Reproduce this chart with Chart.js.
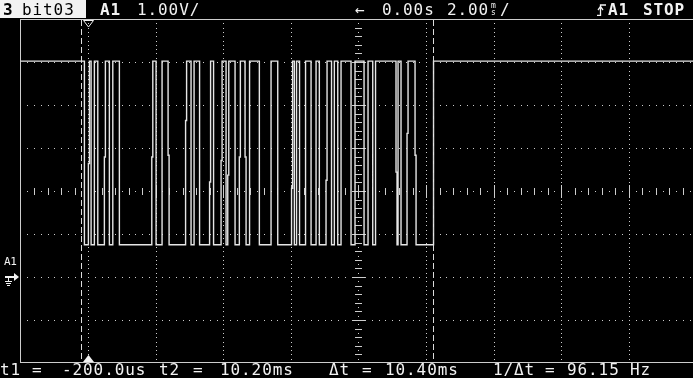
<!DOCTYPE html>
<html>
<head>
<meta charset="utf-8">
<script src="https://cdn.jsdelivr.net/npm/chart.js@4/dist/chart.umd.min.js"></script>
<style>
  html, body { margin: 0; padding: 0; background: #000; overflow: hidden; }
  #scope { position: relative; width: 693px; height: 378px; background: #000; overflow: hidden; }
  #scope canvas { position: absolute; left: 0; top: 0; }
  .t { position: absolute; font-family: "DejaVu Sans Mono", monospace; font-size: 16px; line-height: 16px;
       letter-spacing: 0.9px; color: #f2f2f2; white-space: pre; }
  .b { font-weight: bold; }
  .top { top: 2px; }
  .bot { top: 362px; }
  #tag { position: absolute; left: 0; top: 0; width: 86px; height: 18px; background: #f2f2f2; }
  #unit { position: absolute; left: 488px; top: 2px; width: 11px; font-family: "DejaVu Sans Mono", monospace;
          font-size: 8px; line-height: 7px; color: #f2f2f2; text-align: center; }
  #trig { position: absolute; left: 597px; top: 4px; }
</style>
</head>
<body>
<div id="scope">
  <canvas id="c" width="693" height="378"></canvas>

  <!-- status line -->
  <div id="tag"></div>
  <div class="t top b" style="left:3px;color:#000">3</div>
  <div class="t top" style="left:22px;color:#000">bit03</div>
  <div class="t top b" style="left:100px">A1</div>
  <div class="t top" style="left:137px" id="vdiv"></div>
  <div class="t top" style="left:355px">←</div>
  <div class="t top" style="left:382px" id="tpos"></div>
  <div class="t top" style="left:447px" id="tdiv"></div>
  <div id="unit">m<br>s</div>
  <div class="t top" style="left:500px">/</div>
  <svg id="trig" width="10" height="12" viewBox="0 0 10 12">
    <path d="M0 11.5 H3.5 V1 H9" fill="none" stroke="#f2f2f2" stroke-width="1.3"/>
    <path d="M1 6 L3.5 2.5 L6 6" fill="none" stroke="#f2f2f2" stroke-width="1.3"/>
  </svg>
  <div class="t top b" style="left:608px">A1</div>
  <div class="t top b" style="left:643px">STOP</div>

  <!-- channel marker -->
  <div class="t" style="left:4px;top:256px;font-size:11px;line-height:11px;letter-spacing:-0.4px">A1</div>

  <!-- cursor readout -->
  <div class="t bot" style="left:0px">t1</div>
  <div class="t bot" style="left:32px">=</div>
  <div class="t bot" style="left:62px" id="r1"></div>
  <div class="t bot" style="left:159px">t2</div>
  <div class="t bot" style="left:193px">=</div>
  <div class="t bot" style="left:220px" id="r2"></div>
  <div class="t bot" style="left:329px">Δt</div>
  <div class="t bot" style="left:362px">=</div>
  <div class="t bot" style="left:385px" id="r3"></div>
  <div class="t bot" style="left:493px">1/Δt</div>
  <div class="t bot" style="left:545px">=</div>
  <div class="t bot" style="left:567px" id="r4"></div>
  <div class="t bot" style="left:630px">Hz</div>
</div>

<script>
// ---- acquisition settings ----
const voltsPerDiv = 1.0;          // V/div
const timePerDiv = 2.0;           // ms/div
const timeDelay = 0.0;            // s
const timeRange = [-2, 17.9];     // ms across the screen
const voltRange = [-2, 6];        // V across the screen (ground 2 div below centre)
const timeDivs = [-2, 0, 2, 4, 6, 8, 10, 12, 14, 16];
const voltDivs = [-2, -1, 0, 1, 2, 3, 4, 5, 6];
const centreTime = 8;
const centreVolt = 2;
const triggerTime = 0;

// ---- cursors (ms) ----
const cursorTimes = [-0.2, 10.2];

// ---- captured trace, channel A1 "bit03" ----
const traceTimes = [
  -2, -0.109, 0.009, 0.039, 0.089, 0.186, 0.287, 0.482, 0.512, 0.630, 0.731, 0.926,
  1.885, 1.915, 2.012, 2.189, 2.367, 2.397, 2.885, 2.915, 3.047, 3.136, 3.299,
  3.595, 3.625, 3.713, 3.935, 3.965, 4.083, 4.133, 4.163, 4.349, 4.476, 4.506,
  4.645, 4.675, 4.778, 5.068, 5.414, 5.612, 6.021, 6.051, 6.104, 6.169, 6.257,
  6.435, 6.598, 6.746, 6.843, 7.041, 7.071, 7.204, 7.287, 7.388, 7.485, 7.781,
  7.899, 8.166, 8.284, 8.423, 8.506, 9.112, 9.142, 9.172, 9.260, 9.438, 9.468,
  9.675, 9.705, 10.222, 17.9
];
const traceVolts = [
  5.02, 0.75, 2.64, 5.02, 0.75, 5.02, 0.75, 2.79, 5.02, 0.75, 5.02, 0.75,
  2.79, 5.02, 0.75, 5.02, 2.83, 0.75, 3.64, 5.02, 0.75, 5.02, 0.75,
  2.21, 5.02, 0.75, 2.71, 5.02, 0.75, 2.37, 5.02, 0.75, 2.79, 5.02,
  2.79, 0.75, 5.02, 0.75, 5.02, 0.75, 2.06, 5.02, 0.75, 5.02, 0.75,
  5.02, 0.75, 5.02, 0.75, 2.25, 5.02, 0.75, 5.02, 0.75, 5.02, 0.75,
  5.02, 0.75, 5.02, 0.75, 5.02, 2.44, 0.75, 5.02, 0.75, 3.34, 5.02,
  2.83, 0.75, 5.02, 5.02
];

// ---- readouts ----
function fmtTime(ms) {
  const a = Math.abs(ms);
  if (a < 1) return (ms * 1000).toFixed(1) + 'us';
  return ms.toFixed(2) + 'ms';
}
const dt = cursorTimes[1] - cursorTimes[0];
document.getElementById('vdiv').textContent = voltsPerDiv.toFixed(2) + 'V/';
document.getElementById('tpos').textContent = timeDelay.toFixed(2) + 's';
document.getElementById('tdiv').textContent = timePerDiv.toFixed(2);
document.getElementById('r1').textContent = fmtTime(cursorTimes[0]);
document.getElementById('r2').textContent = fmtTime(cursorTimes[1]);
document.getElementById('r3').textContent = fmtTime(dt);
document.getElementById('r4').textContent = (1000 / dt).toFixed(2);

const GRID = '#cdcdcd';
const TRACE = '#e6e6e6';

const graticule = {
  id: 'graticule',
  beforeDatasetsDraw(chart) {
    const { ctx, chartArea: a, scales: { x, y } } = chart;
    const px = v => Math.round(x.getPixelForValue(v));
    const py = v => Math.round(y.getPixelForValue(v));
    const left = Math.floor(a.left), top = Math.round(a.top), bottom = Math.round(a.bottom) - 1;
    ctx.save();
    ctx.fillStyle = GRID;
    // frame
    ctx.fillRect(left, top, 1, bottom - top + 1);
    ctx.fillRect(left, top, chart.width - left, 1);
    ctx.fillRect(left, bottom, chart.width - left, 1);

    const nV = Math.round((voltRange[1] - voltRange[0]) * 10);
    const nT = Math.round((timeRange[1] - timeRange[0]) / 0.2);
    // vertical dotted divisions
    timeDivs.forEach(t => {
      if (t === timeRange[0] || t === centreTime) return;
      const X = px(t);
      for (let k = 1; k < nV; k++) ctx.fillRect(X, py(voltRange[0] + k * 0.1), 1, 1);
    });
    // horizontal dotted divisions
    voltDivs.forEach(v => {
      if (v === voltRange[0] || v === voltRange[1] || v === centreVolt) return;
      const Y = py(v);
      for (let k = 1; k <= nT; k++) ctx.fillRect(px(timeRange[0] + k * 0.2), Y, 1, 1);
    });
    // centre horizontal axis with ticks
    const Yc = py(centreVolt);
    for (let k = 1; k <= nT; k++) {
      const X = px(timeRange[0] + k * 0.2);
      if (k % 10 === 0) ctx.fillRect(X, Yc - 6, 1, 13);
      else if (k % 2 === 0) ctx.fillRect(X, Yc - 3, 1, 7);
      else ctx.fillRect(X, Yc, 1, 1);
    }
    // centre vertical axis with ticks
    const Xc = px(centreTime);
    for (let k = 0; k <= nV; k++) {
      const Y = Math.min(py(voltRange[0] + k * 0.1), bottom);
      if (k % 10 === 0) ctx.fillRect(Xc - 6, Y, 13, 1);
      else if (k % 2 === 0) ctx.fillRect(Xc - 3, Y, 7, 1);
      else ctx.fillRect(Xc, Y, 1, 1);
    }
    ctx.restore();
  },
  afterDatasetsDraw(chart) {
    const { ctx, chartArea: a, scales: { x, y } } = chart;
    const px = v => Math.round(x.getPixelForValue(v));
    ctx.save();
    // time cursors
    ctx.strokeStyle = '#dcdcdc';
    ctx.lineWidth = 1;
    ctx.setLineDash([6, 3]);
    cursorTimes.forEach(t => {
      const X = px(t) + 0.5;
      ctx.beginPath();
      ctx.moveTo(X, a.top + 1);
      ctx.lineTo(X, a.bottom - 1);
      ctx.stroke();
    });
    ctx.setLineDash([]);
    // trigger position markers
    const Xt = px(triggerTime) + 0.5;
    ctx.strokeStyle = '#f2f2f2';
    ctx.beginPath();
    ctx.moveTo(Xt - 5, a.top + 1.5);
    ctx.lineTo(Xt + 5, a.top + 1.5);
    ctx.lineTo(Xt, a.top + 8);
    ctx.closePath();
    ctx.stroke();
    ctx.fillStyle = '#f2f2f2';
    ctx.beginPath();
    ctx.moveTo(Xt - 5.5, a.bottom - 1);
    ctx.lineTo(Xt + 5.5, a.bottom - 1);
    ctx.lineTo(Xt, a.bottom - 8);
    ctx.closePath();
    ctx.fill();
    // channel ground marker
    const G = Math.round(y.getPixelForValue(0));
    ctx.fillRect(5, G - 1, 11, 2);
    ctx.beginPath();
    ctx.moveTo(14, G - 4);
    ctx.lineTo(19, G);
    ctx.lineTo(14, G + 4);
    ctx.closePath();
    ctx.fill();
    ctx.fillRect(8, G + 1, 1, 3);
    ctx.fillRect(5, G + 4, 7, 1);
    ctx.fillRect(6, G + 6, 5, 1);
    ctx.fillRect(7, G + 8, 3, 1);
    ctx.restore();
  }
};

new Chart(document.getElementById('c'), {
  type: 'line',
  data: {
    datasets: [{
      label: 'bit03',
      data: traceTimes.map((t, i) => ({ x: t, y: traceVolts[i] })),
      stepped: 'before',
      borderColor: TRACE,
      borderWidth: 1.4,
      pointRadius: 0,
      fill: false
    }]
  },
  options: {
    responsive: false,
    animation: false,
    devicePixelRatio: 1,
    events: [],
    layout: { padding: { left: 20.5, top: 19, right: 0, bottom: 15 } },
    scales: {
      x: { type: 'linear', min: timeRange[0], max: timeRange[1], display: false },
      y: { type: 'linear', min: voltRange[0], max: voltRange[1], display: false }
    },
    plugins: { legend: { display: false }, tooltip: { enabled: false } }
  },
  plugins: [graticule]
});
</script>
</body>
</html>
